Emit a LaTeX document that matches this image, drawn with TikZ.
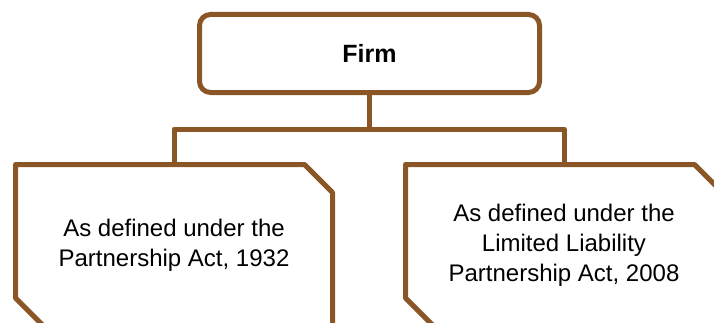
\documentclass[tikz,border=0pt]{standalone}
\usepackage{fontspec}
\setmainfont{Liberation Sans}
\definecolor{brownline}{RGB}{139,86,38}
\begin{document}
\begin{tikzpicture}[x=1pt,y=1pt,
  conn/.style={draw=brownline,line width=5pt,line join=round},
  topbox/.style={draw=brownline,line width=5pt,rounded corners=11pt,inner sep=0pt,outer sep=0pt,
     minimum width=340pt,minimum height=78pt,font=\fontsize{25}{30}\selectfont\bfseries},
  chbox/.style={inner sep=0pt,outer sep=0pt,minimum width=317pt,minimum height=161.5pt,
     align=center,font=\fontsize{24}{30}\selectfont}]
\useasboundingbox (0,0) rectangle (714,322);
\clip (0,0) rectangle (714,322);
\node[topbox] (firm) at (369.5,268.5) {Firm};
\node[chbox] (left) at (174,76.75) {As defined under the\\Partnership Act, 1932};
\node[chbox] (right) at (564,76.75) {As defined under the\\Limited Liability\\Partnership Act, 2008};
\foreach \n in {left,right}{
  \draw[conn] (\n.north west) -- ([xshift=-28pt]\n.north east) -- ([yshift=-28pt]\n.north east)
    -- (\n.south east) -- ([xshift=28pt]\n.south west) -- ([yshift=28pt]\n.south west) -- cycle;
}
\coordinate (j) at (369.5,193);
\draw[conn] (firm.south) -- (j);
\draw[conn] (j) -| (left.north);
\draw[conn] (j) -| (right.north);
\end{tikzpicture}
\end{document}
